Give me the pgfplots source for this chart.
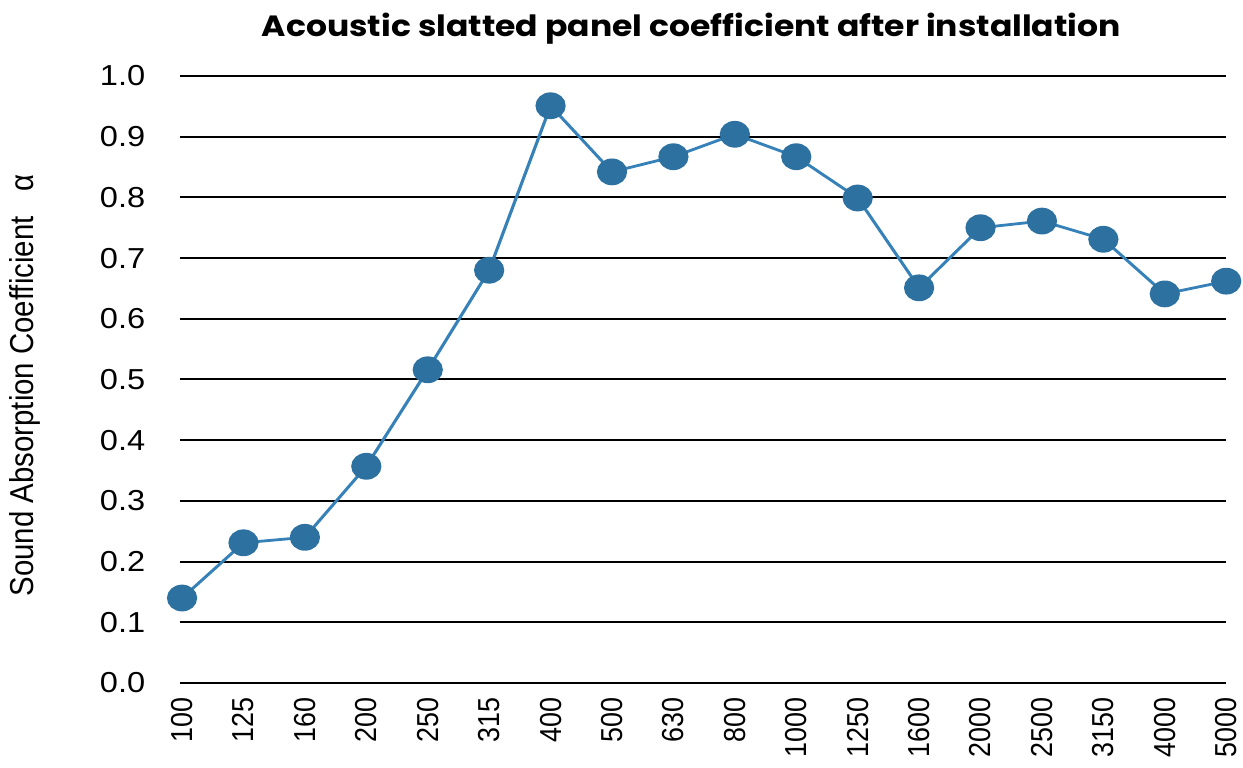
\documentclass[border=0pt]{standalone}
\usepackage{graphicx}
\usepackage{pgfplots}
\pgfplotsset{compat=1.18}
\usepackage{fontspec}
\setmainfont{Liberation Sans}
\newfontfamily\titlefont{Poppins}
\definecolor{lineblue}{HTML}{3581B8}
\definecolor{markblue}{HTML}{2C71A0}
\begin{document}
\resizebox{1243bp}{768bp}{%
\begin{tikzpicture}
\useasboundingbox (-159.3bp,-85bp) rectangle (943.2bp,683bp);
\begin{axis}[
  at={(0,0)}, anchor=south west,
  scale only axis, width=928.3bp, height=607bp,
  xmin=-0.04, xmax=17, ymin=0, ymax=1.0,
  clip=false,
  axis line style={draw=none},
  xtick={0,...,17},
  xticklabels={100,125,160,200,250,315,400,500,630,800,1000,1250,1600,2000,2500,3150,4000,5000},
  ytick={0,0.1,...,1.0},
  yticklabel style={/pgf/number format/.cd, fixed, fixed zerofill, precision=1, /tikz/.cd, font=\fontsize{29}{29}\selectfont, xshift=-27bp},
  /pgf/number format/assume math mode=true,
  xticklabel style={rotate=90, anchor=east, font=\fontsize{27}{27}\selectfont},
  xticklabel shift={11bp},
  major tick length=0pt,
  ymajorgrids, grid style={black, line width=2bp},
  ylabel={Sound Absorption Coefficient\ \ \ α},
  ylabel style={at={(axis description cs:-0.1478,0.49)}, anchor=center, rotate=0, font=\fontsize{29.5}{29.5}\selectfont},
]
\addplot[lineblue, line width=2.8bp, mark=*, mark size=12bp, mark options={fill=markblue, draw=markblue}]
coordinates {
(0,0.140) (1,0.231) (2,0.240) (3,0.357) (4,0.516) (5,0.680) (6,0.951) (7,0.842) (8,0.867)
(9,0.904) (10,0.867) (11,0.799) (12,0.651) (13,0.750) (14,0.761) (15,0.731) (16,0.641) (17,0.662)
};
\node[font=\titlefont\bfseries\fontsize{29.4}{29.4}\selectfont, anchor=base] at (axis description cs:0.489,1.0) [yshift=39.3bp] {Acoustic slatted panel coefficient after installation};
\end{axis}
\end{tikzpicture}%
}
\end{document}
